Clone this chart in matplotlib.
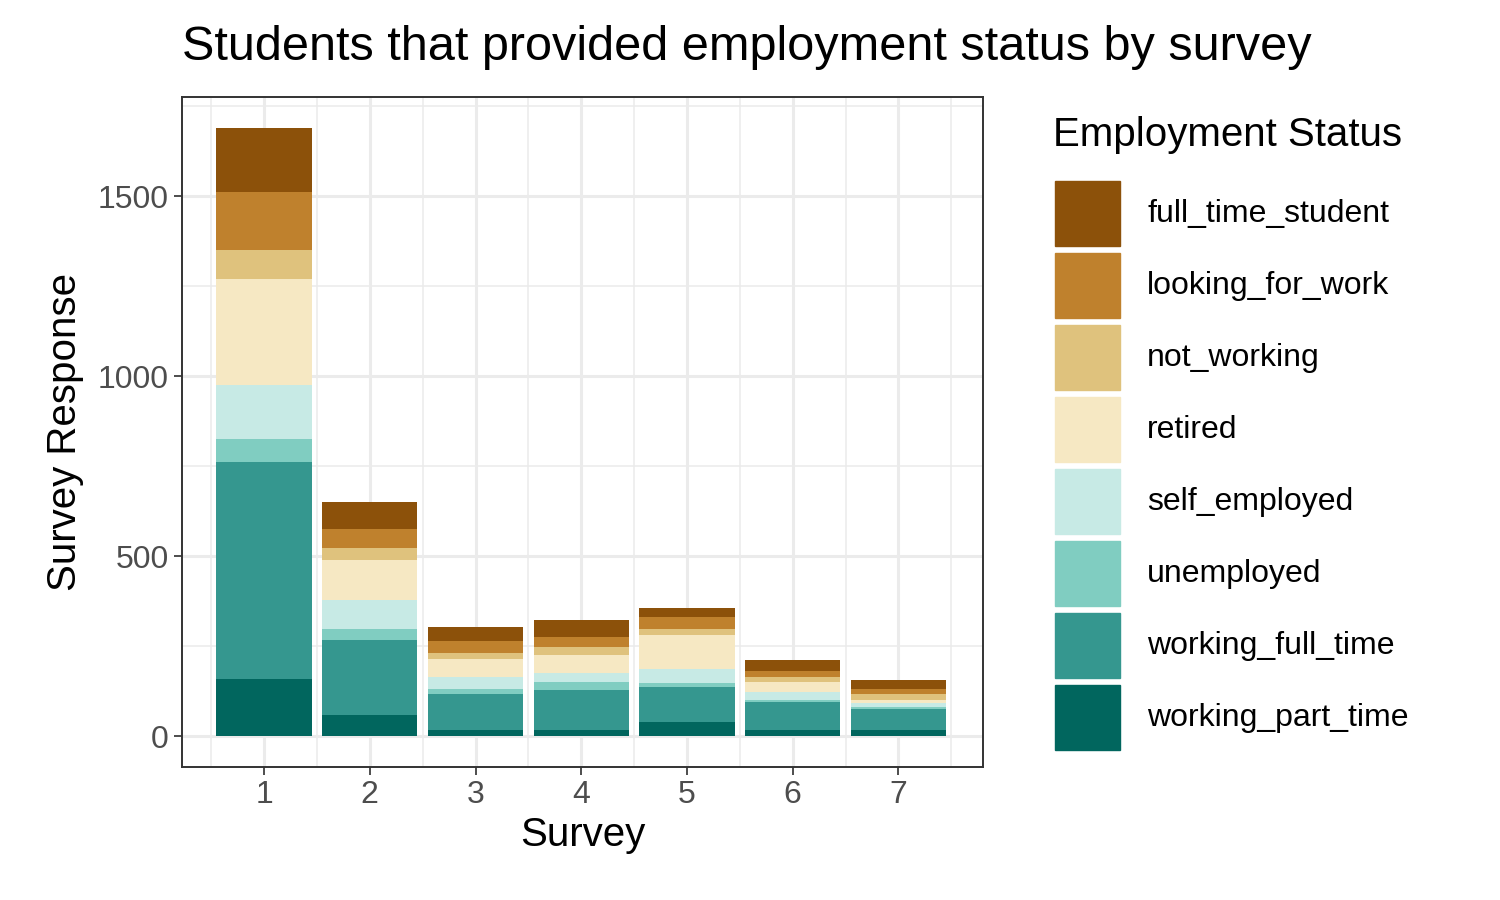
import matplotlib.pyplot as plt
import matplotlib.patches as mpatches
import numpy as np

plt.rcParams['font.family'] = ['Liberation Sans', 'DejaVu Sans']

surveys = [1, 2, 3, 4, 5, 6, 7]
statuses = ['full_time_student', 'looking_for_work', 'not_working', 'retired',
            'self_employed', 'unemployed', 'working_full_time', 'working_part_time']
colors = ['#8C510A', '#BF812D', '#DFC27D', '#F6E8C3',
          '#C7EAE5', '#80CDC1', '#35978F', '#01665E']

# counts per status, surveys 1..7
full_time_student = [178, 75, 39, 47, 25, 30, 25]
looking_for_work  = [161, 53, 31, 28, 36, 17, 14]
not_working       = [81, 33, 19, 22, 14, 14, 17]
retired           = [294, 111, 50, 50, 97, 28, 8]
self_employed     = [150, 81, 33, 25, 39, 22, 11]
unemployed        = [64, 30, 14, 22, 11, 5, 6]
working_full_time = [603, 209, 100, 111, 97, 78, 58]
working_part_time = [158, 58, 16, 16, 38, 16, 16]

series = [full_time_student, looking_for_work, not_working, retired,
          self_employed, unemployed, working_full_time, working_part_time]

fig = plt.figure(figsize=(15, 9), dpi=100)
ax = fig.add_axes([182/1500, 1-767/900, (983-182)/1500, (767-97)/900])

bottom = np.zeros(len(surveys))
for vals, col in zip(series[::-1], colors[::-1]):
    ax.bar(surveys, vals, bottom=bottom, width=0.9, color=col, zorder=3)
    bottom += np.array(vals)

ax.set_xlim(0.224, 7.8)
ax.set_ylim(-86, 1775)
ax.set_xticks(surveys)
ax.set_xticks(np.arange(0.5, 8, 1), minor=True)
ax.set_yticks([0, 500, 1000, 1500])
ax.set_yticks([250, 750, 1250, 1750], minor=True)
ax.grid(True, which='major', color='#EBEBEB', linewidth=2.2, zorder=0)
ax.grid(True, which='minor', color='#EBEBEB', linewidth=1.1, zorder=0)
ax.set_axisbelow(True)
for s in ax.spines.values():
    s.set_color('#333333')
    s.set_linewidth(1.4)
ax.tick_params(which='major', labelsize=23, colors='#4D4D4D', length=6, width=1.4)
ax.tick_params(which='minor', length=0)
ax.set_xlabel('Survey', fontsize=29, labelpad=4)
ax.set_ylabel('Survey Response', fontsize=29, labelpad=10)
fig.text(182/1500, 1-47/900, 'Students that provided employment status by survey',
         fontsize=35, ha='left', va='center')

# legend
fig.text(1053/1500, 1-135/900, 'Employment Status', fontsize=29, va='center')
for i, (name, col) in enumerate(zip(statuses, colors)):
    y0 = 181 + i * 72
    fig.patches.append(mpatches.Rectangle((1055/1500, 1-(y0+65)/900), 65/1500, 65/900,
                                          transform=fig.transFigure, color=col))
    fig.text(1147/1500, 1-(y0+33)/900, name, fontsize=23, va='center')

fig.savefig('out.png', dpi=100)
